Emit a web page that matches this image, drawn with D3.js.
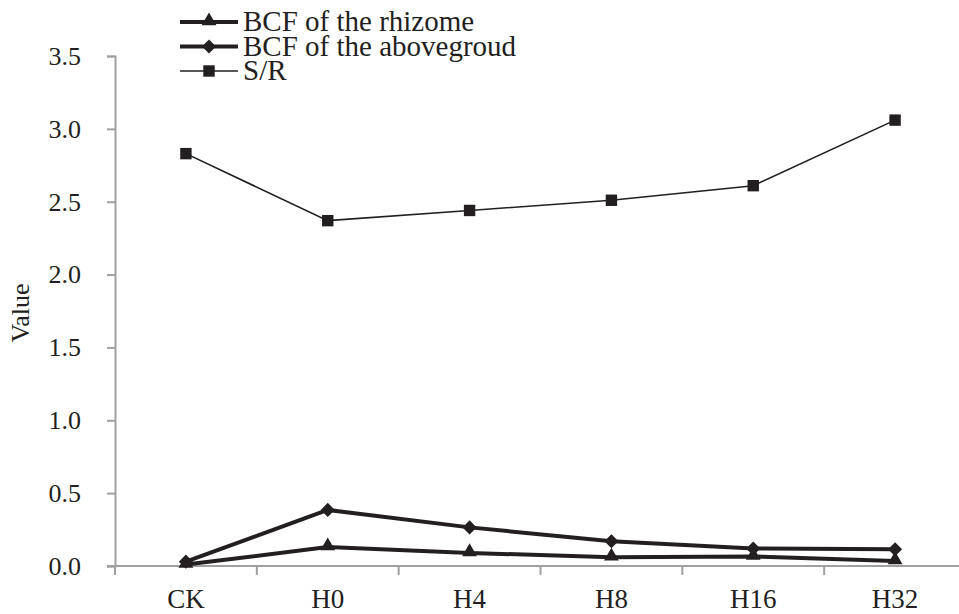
<!DOCTYPE html>
<html>
<head>
<meta charset="utf-8">
<script src="https://cdn.jsdelivr.net/npm/d3@7"></script>
<style>
  body { margin: 0; background: #fff; }
  svg text { font-family: "Liberation Serif", "Times New Roman", serif; fill: #231f20; }
</style>
</head>
<body>
<div id="chart"></div>
<script>
// categories on the x axis
const groups = ["CK", "H0", "H4", "H8", "H16", "H32"];
// values
const rhizome = [0.01, 0.13, 0.09, 0.06, 0.065, 0.035];
const aboveground = [0.03, 0.385, 0.265, 0.17, 0.12, 0.115];
const shootRoot = [2.83, 2.37, 2.44, 2.51, 2.61, 3.06];
const yTicks = [0, 0.5, 1, 1.5, 2, 2.5, 3, 3.5];
const seriesNames = ["BCF of the rhizome", "BCF of the abovegroud", "S/R"];

const W = 959, H = 614;
const margin = { top: 56, right: -7, bottom: 48, left: 115 };
const ink = "#231f20";
const axisGrey = "#a0a0a0";

const svg = d3.select("#chart").append("svg")
  .attr("width", W).attr("height", H);

const x = d3.scaleBand()
  .domain(groups)
  .range([margin.left, W - margin.right]);

const y = d3.scaleLinear()
  .domain([0, 3.5])
  .range([H - margin.bottom, margin.top]);

// y axis
const yAxis = svg.append("g")
  .attr("transform", `translate(${margin.left},0)`)
  .call(d3.axisLeft(y).tickValues(yTicks).tickSize(8).tickPadding(26)
    .tickFormat(d3.format(".1f")));
yAxis.select(".domain").attr("stroke", axisGrey).attr("stroke-width", 2);
yAxis.selectAll(".tick line").attr("stroke", axisGrey).attr("stroke-width", 2);
yAxis.selectAll(".tick text").style("font-size", "26px").attr("fill", ink);

// x axis, ticks at band edges like excel
const xAxisG = svg.append("g")
  .attr("transform", `translate(0,${y(0)})`);
xAxisG.append("line")
  .attr("x1", margin.left - 8).attr("x2", W)
  .attr("stroke", axisGrey).attr("stroke-width", 2);
xAxisG.selectAll(".edge")
  .data(groups)
  .join("line")
  .attr("x1", (d) => x(d)).attr("x2", (d) => x(d))
  .attr("y1", 0).attr("y2", 9)
  .attr("stroke", axisGrey).attr("stroke-width", 2);
xAxisG.selectAll(".lab")
  .data(groups)
  .join("text")
  .attr("x", (d) => x(d) + x.bandwidth() / 2)
  .attr("y", 42)
  .attr("text-anchor", "middle")
  .style("font-size", "27px")
  .text((d) => d);

// y axis title
svg.append("text")
  .attr("transform", `translate(29,${(y(0) + y(3.5)) / 2 + 2}) rotate(-90)`)
  .attr("text-anchor", "middle")
  .style("font-size", "26px")
  .text("Value");

// marker shapes (diamond = square turned 45deg, like excel)
const symTri = d3.symbol().type(d3.symbolTriangle).size(95);
const symDia = d3.symbol().type(d3.symbolSquare).size(100);
const symSq = d3.symbol().type(d3.symbolSquare).size(130);

const series = [
  { name: seriesNames[0], values: rhizome, width: 4, sym: symTri, dy: -1, rot: 0 },
  { name: seriesNames[1], values: aboveground, width: 4, sym: symDia, dy: 0, rot: 45 },
  { name: seriesNames[2], values: shootRoot, width: 1.6, sym: symSq, dy: 0, rot: 0 },
];

const line = d3.line()
  .x((d, i) => x(groups[i]) + x.bandwidth() / 2)
  .y((d) => y(d));

series.forEach((s) => {
  svg.append("path")
    .datum(s.values)
    .attr("fill", "none")
    .attr("stroke", ink)
    .attr("stroke-width", s.width)
    .attr("d", line);
  svg.selectAll(null)
    .data(s.values)
    .join("path")
    .attr("transform", (d, i) =>
      `translate(${x(groups[i]) + x.bandwidth() / 2},${y(d) + s.dy}) rotate(${s.rot})`)
    .attr("d", s.sym())
    .attr("fill", ink);
});

// legend
const legend = svg.append("g").attr("transform", "translate(180,22)");
series.forEach((s, i) => {
  const row = legend.append("g").attr("transform", `translate(0,${i * 24.5})`);
  row.append("line")
    .attr("x1", 0).attr("x2", 58)
    .attr("stroke", ink).attr("stroke-width", s.width);
  row.append("path")
    .attr("transform", `translate(29,${s.dy}) rotate(${s.rot})`)
    .attr("d", s.sym())
    .attr("fill", ink);
  row.append("text")
    .attr("x", 63).attr("y", 9)
    .style("font-size", "29px")
    .text(s.name);
});
</script>
</body>
</html>
